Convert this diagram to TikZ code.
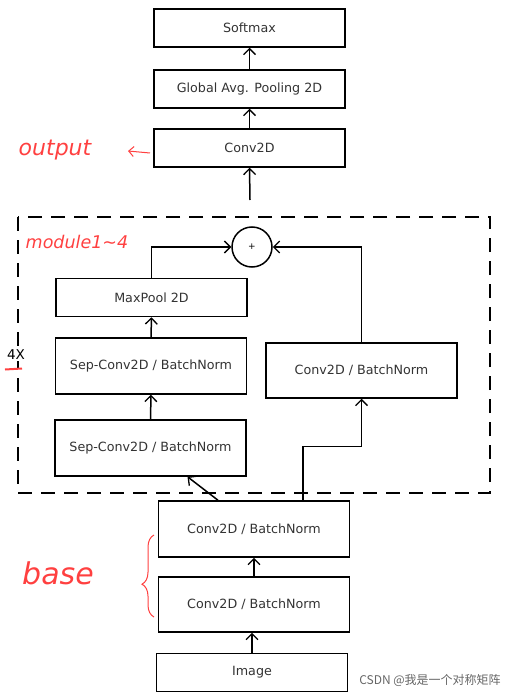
\documentclass[tikz,border=0pt]{standalone}
\usepackage{fontspec}
\setmainfont{DejaVu Sans}
\newfontfamily\cjkfont{Noto Sans CJK SC}
\usepackage{tikz}
\usetikzlibrary{arrows.meta, positioning, decorations.pathreplacing}

\begin{document}
\begin{tikzpicture}[
  x=1pt,y=-1pt,
  box/.style={draw, line width=1.5pt, minimum width=191pt, minimum height=38pt, align=center, font=\fontsize{12.7}{15}\selectfont, text=black!80},
  tall/.style={box, minimum height=56pt},
  flow/.style={-{Straight Barb[length=6pt, width=12pt, line width=1.3pt]}, line width=1.5pt},
  note/.style={text=red!75!white, font=\itshape\fontsize{22}{24}\selectfont}
]
\useasboundingbox (0,0) rectangle (509,695);

% top: output head
\node[box] (softmax) at (249.5,28) {Softmax};
\node[box] (gap) at (249.5,89) {Global Avg. Pooling 2D};
\node[box] (convout) at (249.5,148) {Conv2D};
\coordinate (modout) at (250,200);
\draw[flow] (gap.north) -- (softmax.south);
\draw[flow] (convout.north) -- (gap.south);
\draw[flow] (modout) -- (convout.south);

% middle: repeated module
\draw[line width=1.5pt, dash pattern=on 14pt off 9pt] (18,217) rectangle (490,493);
\node[draw, circle, line width=1.5pt, minimum size=40pt, inner sep=0pt, font=\small] (plus) at (252,247) {+};
\node[box] (maxpool) at (151.5,297.5) {MaxPool 2D};
\node[tall] (sep2) at (151,366) {Sep-Conv2D / BatchNorm};
\node[tall] (sep1) at (150.5,448) {Sep-Conv2D / BatchNorm};
\node[tall, minimum height=55pt] (res) at (361.5,370.5) {Conv2D / BatchNorm};
\draw[flow] (sep1.north) -- (sep2.south);
\draw[flow] (sep2.north) -- (maxpool.south);
\draw[flow] (maxpool.north) |- (plus.west);
\draw[flow] (res.north) |- (plus.east);

% bottom: base
\node[tall] (base2) at (254,529) {Conv2D / BatchNorm};
\node[tall, minimum height=55pt] (base1) at (254,604.5) {Conv2D / BatchNorm};
\node[box] (image) at (252,672.5) {Image};
\draw[flow] (image.north) -- (image.north |- base1.south);
\draw[flow] (base1.north) -- (base2.south);
\draw[flow] ([xshift=-36pt]base2.north) -- ([xshift=37pt]sep1.south);
\draw[flow] ([xshift=49pt]base2.north) -- ++(0,-54) -| (res.south);

% hand notes
\node[note] (outnote) at (55,150) {output};
\coordinate (outtail) at (150,153);
\coordinate (outtip) at (128,151);
\draw[red!75!white, line width=1pt, -{Straight Barb[length=5pt, width=10pt]}] (outtail) -- (outtip);
\node[note, font=\itshape\fontsize{17.5}{19}\selectfont] (modnote) at (77,242) {module1\textasciitilde4};
\node[fill=white, inner sep=1pt, font=\fontsize{13.5}{15}\selectfont] (times) at (16,355) {4X};
\coordinate (marka) at (5,369.5);
\coordinate (markb) at (22,368.5);
\draw[red!75!white, line width=2pt] (marka) -- (markb);
\node[note, font=\itshape\fontsize{30}{32}\selectfont] (basenote) at (58,573) {base};
\coordinate (bracelow) at (154,617);
\coordinate (bracehigh) at (154,535);
\draw[red!75!white, line width=1pt, decorate, decoration={brace, amplitude=12pt, aspect=0.4}] (bracelow) -- (bracehigh);
\node[text=black!60, font=\cjkfont\fontsize{12}{14}\selectfont] (mark) at (430,680) {CSDN @我是一个对称矩阵};

\end{tikzpicture}
\end{document}
